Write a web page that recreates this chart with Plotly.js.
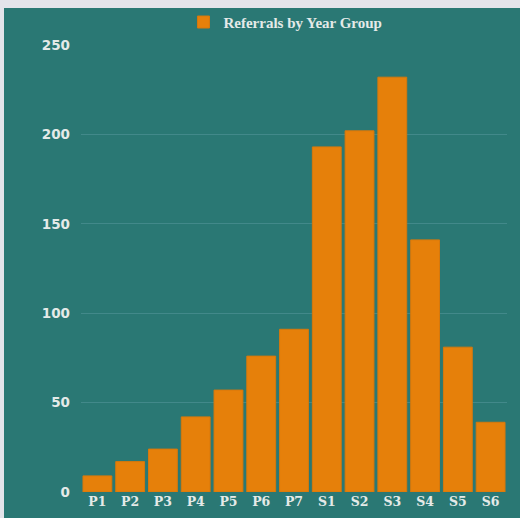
<!DOCTYPE html>
<html>
<head>
<meta charset="utf-8">
<script src="https://cdn.plot.ly/plotly-3.0.1.min.js"></script>
<style>
html,body{margin:0;padding:0;background:#e3e4ea;width:520px;height:518px;overflow:hidden;}
#chart{position:absolute;left:4px;top:8px;width:516px;height:510px;}
</style>
</head>
<body>
<div id="chart"></div>
<script>
const yearGroups = ["P1","P2","P3","P4","P5","P6","P7","S1","S2","S3","S4","S5","S6"];
const referrals = [9, 17, 24, 42, 57, 76, 91, 193, 202, 232, 141, 81, 39];
const seriesName = "Referrals by Year Group";
const yTicks = [0, 50, 100, 150, 200, 250];

const textColor = "#e4eae8";
const trace = {
  type: "bar",
  x: yearGroups,
  y: referrals,
  name: seriesName,
  showlegend: true,
  marker: {color: "#e6800a", line: {color: "#d7780c", width: 1}},
  hoverinfo: "x+y"
};
const layout = {
  width: 516, height: 510,
  paper_bgcolor: "#2a7874",
  plot_bgcolor: "#2a7874",
  margin: {l: 77, r: 13, t: 37, b: 26, autoexpand: false},
  bargap: 0.12,
  showlegend: true,
  legend: {
    orientation: "h", x: 0.48, xanchor: "center",
    yref: "container", y: 0.972, yanchor: "middle",
    font: {family: "Liberation Serif", size: 15, color: textColor, weight: "bold"},
    itemwidth: 30
  },
  xaxis: {
    type: "category",
    tickfont: {family: "DejaVu Serif", size: 12.5, color: textColor, weight: "bold"},
    showgrid: false, zeroline: false, showline: false, ticks: "",
    fixedrange: true
  },
  yaxis: {
    range: [0, 250],
    tickvals: yTicks,
    ticktext: yTicks.map(String),
    tickfont: {family: "DejaVu Sans", size: 13.5, color: textColor, weight: "bold"},
    gridcolor: "#42898a",
    gridwidth: 1,
    zeroline: false, showline: false, ticks: "",
    ticklabelstandoff: 10,
    fixedrange: true
  }
};
Plotly.newPlot("chart", [trace], layout, {displayModeBar: false, staticPlot: true});
</script>
</body>
</html>
